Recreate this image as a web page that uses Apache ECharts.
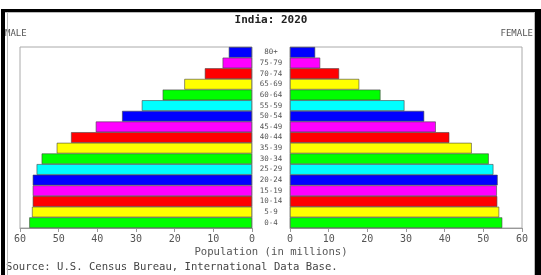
<!DOCTYPE html>
<html><head><meta charset="utf-8">
<script src="https://cdn.jsdelivr.net/npm/echarts@6/dist/echarts.min.js"></script>
<style>html,body{margin:0;padding:0;background:#fff}#c{width:541px;height:275px}</style>
</head><body><div id="c"></div>
<script>
const ageGroups = ["0-4","5-9","10-14","15-19","20-24","25-29","30-34","35-39","40-44","45-49","50-54","55-59","60-64","65-69","70-74","75-79","80+"];
const maleValues = [57.6,56.9,56.7,56.7,56.7,55.7,54.4,50.5,46.8,40.4,33.6,28.5,23.1,17.5,12.2,7.6,6.0];
const femaleValues = [54.9,54.1,53.6,53.5,53.7,52.6,51.4,47.0,41.2,37.7,34.7,29.6,23.4,17.9,12.7,7.8,6.5];
const barColors = ["#00ff00","#ffff00","#ff0000","#ff00ff","#0000ff","#00ffff"];
const axisTicks = [0,10,20,30,40,50,60];

const mono = "'DejaVu Sans Mono', 'Liberation Mono', monospace";
const chart = echarts.init(document.getElementById('c'), null, {renderer:'canvas'});
const colored = vals => vals.map((v,i)=>({value:v,itemStyle:{color:barColors[i%barColors.length]}}));
const xAx = (gi, inv) => ({
  type:'value', gridIndex:gi, inverse:inv, min:axisTicks[0], max:axisTicks[axisTicks.length-1], interval:10,
  axisLine:{show:true,lineStyle:{color:'#999',width:1}},
  axisTick:{show:true,length:4,lineStyle:{color:'#999'}},
  axisLabel:{fontFamily:mono,fontSize:10,color:'#555',margin:6},
  splitLine:{show:false}
});
chart.setOption({
  animation:false,
  grid:[
    {left:20,top:47,width:232,height:181,show:true,borderColor:'#aaa',borderWidth:1,backgroundColor:'#fff'},
    {left:290,top:47,width:232,height:181,show:true,borderColor:'#aaa',borderWidth:1,backgroundColor:'#fff'}
  ],
  xAxis:[xAx(0,true),xAx(1,false)],
  yAxis:[
    {type:'category',gridIndex:0,data:ageGroups,position:'right',
     axisLine:{show:false},axisTick:{show:false},
     axisLabel:{fontFamily:mono,fontSize:7.5,color:'#555',margin:19,align:'center',interval:0}},
    {type:'category',gridIndex:1,data:ageGroups,
     axisLine:{show:false},axisTick:{show:false},axisLabel:{show:false}}
  ],
  series:[
    {type:'bar',xAxisIndex:0,yAxisIndex:0,data:colored(maleValues),barCategoryGap:'0%',
     itemStyle:{borderColor:'#444',borderWidth:0.6}},
    {type:'bar',xAxisIndex:1,yAxisIndex:1,data:colored(femaleValues),barCategoryGap:'0%',
     itemStyle:{borderColor:'#444',borderWidth:0.6}}
  ],
  graphic:[
    {type:'rect',shape:{x:1,y:9,width:4,height:266},style:{fill:'#000'},z:100},
    {type:'rect',shape:{x:1,y:9,width:540,height:3},style:{fill:'#000'},z:100},
    {type:'rect',shape:{x:535,y:9,width:6,height:266},style:{fill:'#000'},z:100},
    {type:'line',shape:{x1:7.5,y1:12,x2:7.5,y2:275},style:{stroke:'#bbb',lineWidth:1},z:99},
    {type:'line',shape:{x1:5,y1:12.5,x2:535,y2:12.5},style:{stroke:'#bbb',lineWidth:1},z:99},
    {type:'line',shape:{x1:534.5,y1:12,x2:534.5,y2:275},style:{stroke:'#bbb',lineWidth:1},z:99},
    {type:'text',x:271,y:20,style:{text:'India: 2020',font:"bold 11px "+mono,fill:'#222',textAlign:'center',textVerticalAlign:'middle'}},
    {type:'text',x:5,y:34,style:{text:'MALE',font:"9px "+mono,fill:'#555',textAlign:'left',textVerticalAlign:'middle'}},
    {type:'text',x:533,y:34,style:{text:'FEMALE',font:"9px "+mono,fill:'#555',textAlign:'right',textVerticalAlign:'middle'}},
    {type:'text',x:271,y:252,style:{text:'Population (in millions)',font:"10.6px "+mono,fill:'#555',textAlign:'center',textVerticalAlign:'middle'}},
    {type:'text',x:6,y:267,style:{text:'Source: U.S. Census Bureau, International Data Base.',font:"10.6px "+mono,fill:'#444',textAlign:'left',textVerticalAlign:'middle'}}
  ]
});
</script></body></html>
